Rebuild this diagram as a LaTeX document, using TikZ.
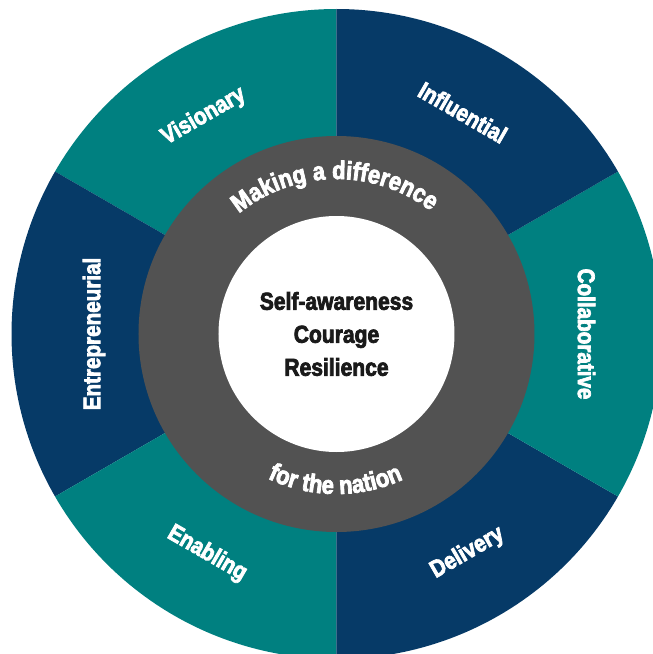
\documentclass[tikz,border=0pt]{standalone}
\usepackage{fontspec}
\usetikzlibrary{decorations.text}
\newfontfamily\lblfont[FakeStretch=0.86,BoldFeatures={FakeBold=3}]{Liberation Sans}
\definecolor{tealseg}{HTML}{008080}
\definecolor{navyseg}{HTML}{063A67}
\definecolor{ringgray}{HTML}{525252}
\definecolor{centertext}{HTML}{1A1A1A}
\tikzset{
  seglabel/.style={text=white, font=\lblfont\bfseries\fontsize{24}{24}\selectfont, anchor=center, inner sep=0pt},
  centerlabel/.style={text=centertext, font=\lblfont\bfseries\fontsize{24.5}{33}\selectfont, align=center, inner sep=0pt}
}
\begin{document}
\begin{tikzpicture}
\useasboundingbox (-336.5pt,-320pt) rectangle (316.5pt,334pt);
% outer segments
\foreach \a/\c in {90/tealseg,150/navyseg,210/tealseg,270/navyseg,330/tealseg,30/navyseg}{
  \fill[\c] (0,0) -- (\a:325pt) arc[start angle=\a, delta angle=60, radius=325pt] -- cycle;
}
% inner ring and disc
\fill[ringgray] (0,0) circle[radius=198pt];
\fill[white] (0,0) circle[radius=118pt];
% segment labels
\node[seglabel, rotate=30] (vis) at (121.4:255pt) {Visionary};
\node[seglabel, rotate=-30] (inf) at (60.3:255pt) {Influential};
\node[seglabel, rotate=-90] (col) at (0:250pt) {Collaborative};
\node[seglabel, rotate=30] (del) at (-59.1:255pt) {Delivery};
\node[seglabel, rotate=-30] (ena) at (239.5:255pt) {Enabling};
\node[seglabel, rotate=90] (ent) at (180:242.5pt) {Entrepreneurial};
% curved ring texts
\path[decorate, decoration={text along path, text color=white,
  text={|\lblfont\bfseries\fontsize{25.5}{25.5}\selectfont|Making a difference},
  text align={fit to path}}]
  (129:155pt) arc[start angle=129, end angle=52.5, radius=155pt];
\path[decorate, decoration={text along path, text color=white,
  text={|\lblfont\bfseries\fontsize{25.5}{25.5}\selectfont|for the nation},
  text align={fit to path}}]
  (244.5:160pt) arc[start angle=244.5, end angle=294.5, radius=160pt];
% centre text
\node[centerlabel] (core) at (0,0pt) {Self-awareness\\Courage\\Resilience};
\end{tikzpicture}
\end{document}
